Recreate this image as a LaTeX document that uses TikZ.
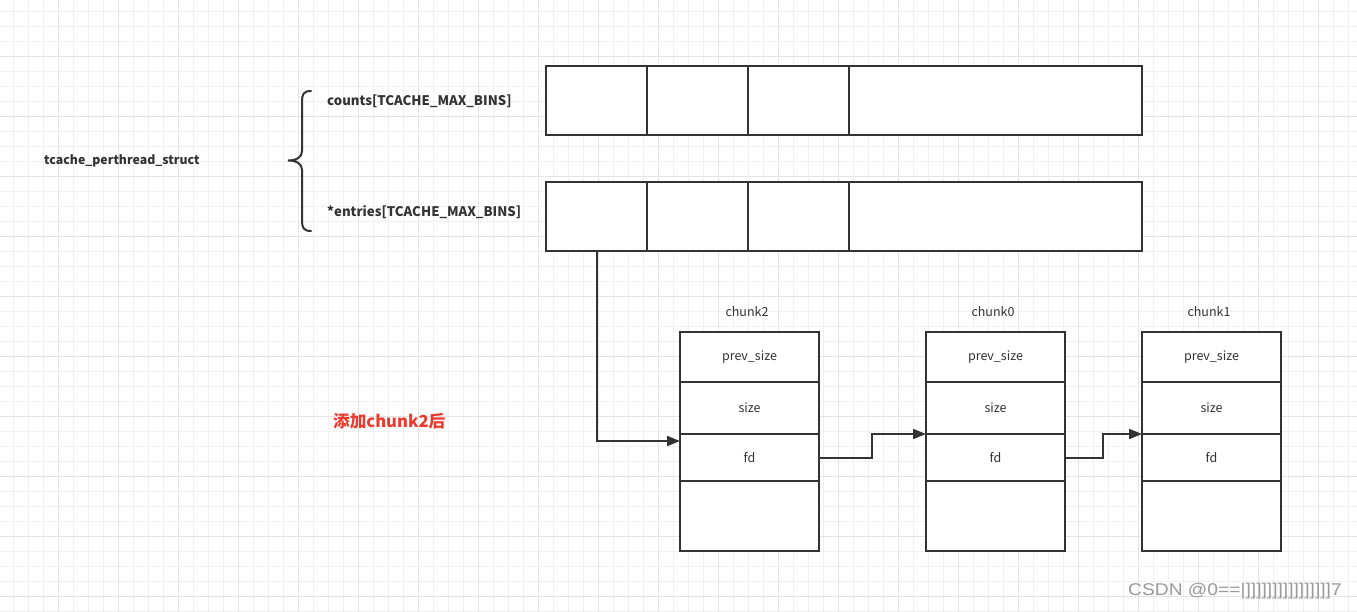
\documentclass[tikz,border=0pt]{standalone}
\usepackage{fontspec}
\setmainfont{Noto Sans CJK SC}
\newfontfamily\wmfont{Liberation Sans}
\usetikzlibrary{arrows.meta}
\definecolor{lineC}{HTML}{333333}
\definecolor{txtC}{HTML}{333333}
\definecolor{gridMinor}{HTML}{F1F1F1}
\definecolor{gridMajor}{HTML}{E4E4E4}
\definecolor{redC}{RGB}{235,59,47}
\definecolor{wmC}{HTML}{9A9A9A}
\tikzset{
  cell/.style={draw=lineC, line width=2pt, inner sep=0pt, outer sep=0pt, anchor=north west, fill=white},
  fieldtxt/.style={font=\fontsize{12.5}{14}\selectfont, text=txtC},
  boldtxt/.style={font=\fontsize{12.3}{14}\selectfont\bfseries, text=txtC, inner sep=0pt, anchor=west},
  arr/.style={draw=lineC, line width=2pt, -{Triangle[length=13pt,width=10pt]}},
  brace/.style={draw=lineC, line width=2pt, line cap=round},
  lbl/.style={font=\fontsize{12.5}{14}\selectfont, text=txtC, inner sep=0pt}
}
\begin{document}
\begin{tikzpicture}[x=1pt,y=-1pt]
\useasboundingbox (0,0) rectangle (1357,612);
\fill[white] (0,0) rectangle (1357,612);
% grid
\foreach \i in {0,...,90} {\draw[gridMinor, line width=1pt] (13.3+15*\i,0) -- (13.3+15*\i,612);}
\foreach \i in {0,...,40} {\draw[gridMinor, line width=1pt] (0,11.7+15*\i) -- (1357,11.7+15*\i);}
\foreach \i in {0,...,22} {\draw[gridMajor, line width=1pt] (58.3+60*\i,0) -- (58.3+60*\i,612);}
\foreach \i in {0,...,9} {\draw[gridMajor, line width=1pt] (0,56.7+60*\i) -- (1357,56.7+60*\i);}

% labels left
\node[boldtxt] (tps) at (44,161) {tcache\_perthread\_struct};
\node[boldtxt, font=\fontsize{13.2}{15}\selectfont\bfseries] (cnt) at (327,101) {counts[TCACHE\_MAX\_BINS]};
\node[boldtxt, font=\fontsize{13.2}{15}\selectfont\bfseries] (ent) at (327,212) {*entries[TCACHE\_MAX\_BINS]};
\draw[brace] (311,91) .. controls (304,91) and (302,94) .. (302,101) -- (302,151) .. controls (302,157) and (297,160.5) .. (288,160.5) .. controls (297,160.5) and (302,164) .. (302,170) -- (302,221) .. controls (302,228) and (304,231) .. (311,231);

% arrays
\node[cell, minimum width=101pt, minimum height=69pt] (c1) at (546,66) {};
\node[cell, minimum width=101pt, minimum height=69pt] (c2) at (647,66) {};
\node[cell, minimum width=101pt, minimum height=69pt] (c3) at (748,66) {};
\node[cell, minimum width=293pt, minimum height=69pt] (c4) at (849,66) {};
\node[cell, minimum width=101pt, minimum height=69pt] (e1) at (546,182) {};
\node[cell, minimum width=101pt, minimum height=69pt] (e2) at (647,182) {};
\node[cell, minimum width=101pt, minimum height=69pt] (e3) at (748,182) {};
\node[cell, minimum width=293pt, minimum height=69pt] (e4) at (849,182) {};

% chunks
\foreach \n/\x/\t in {a/680/chunk2, b/926/chunk0, c/1142/chunk1} {
  \node[cell, fieldtxt, minimum width=139pt, minimum height=50pt] (\n p) at (\x,332) {\raisebox{-1.5pt}{prev\_size}};
  \node[cell, fieldtxt, minimum width=139pt, minimum height=52pt] (\n s) at (\x,382) {size};
  \node[cell, fieldtxt, minimum width=139pt, minimum height=47pt] (\n f) at (\x,434) {fd};
  \node[cell, minimum width=139pt, minimum height=70pt] (\n e) at (\x,481) {};
  \node[lbl] (\n l) at (\x+67,312) {\t};
}

% arrows
\draw[arr] (e1.south) |- ([yshift=-7pt]af.north west);
\draw[arr] (af.east) -- ++(53pt,0) |- (bf.north west);
\draw[arr] (bf.east) -- ++(38pt,0) |- (cf.north west);

% red label
\node[font=\fontsize{16.6}{18}\selectfont\bfseries, text=redC, inner sep=0pt, anchor=west] (red) at (333,421) {添加chunk2后};

% watermark
\node[font=\wmfont\fontsize{17}{19}\selectfont, text=wmC, inner sep=0pt, anchor=west, xscale=1.13] (wm) at (1128,591) {CSDN @0==|]]]]]]]]]]]]]]]]7};
\end{tikzpicture}
\end{document}
